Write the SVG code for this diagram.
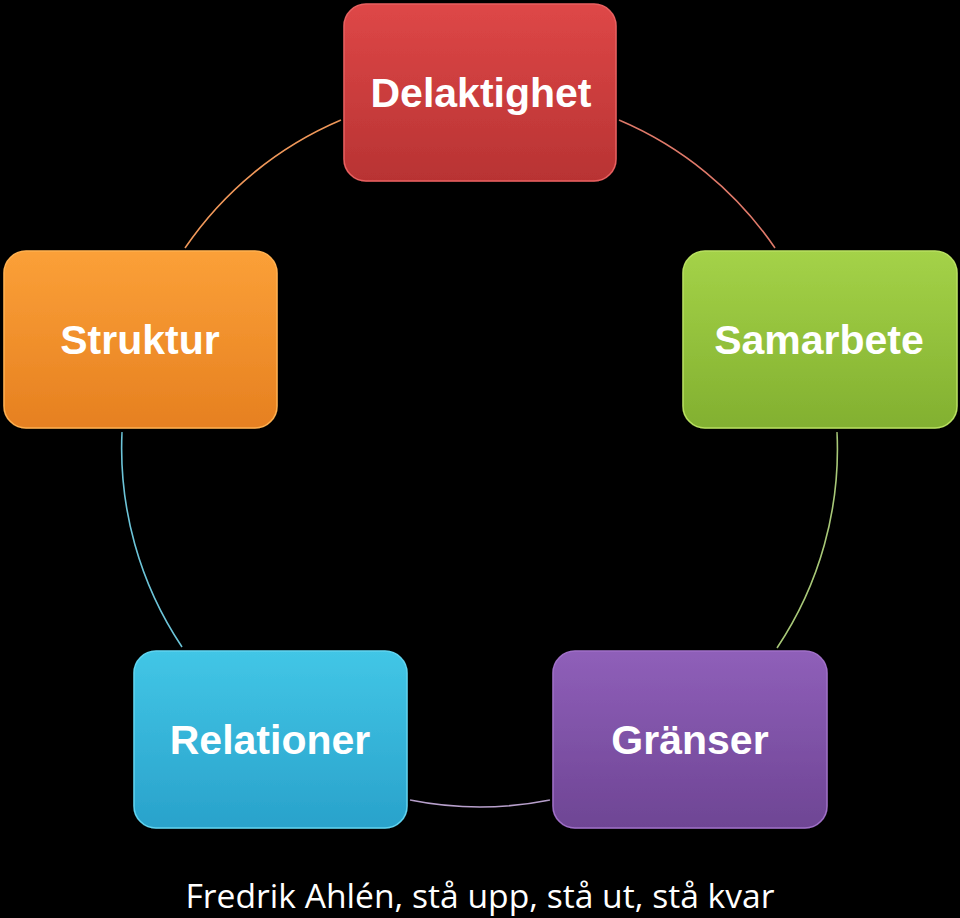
<svg xmlns="http://www.w3.org/2000/svg" width="960" height="918" viewBox="0 0 960 918">
<defs>
<linearGradient id="gRed" x1="0" y1="0" x2="0" y2="1"><stop offset="0" stop-color="#de4747"/><stop offset="1" stop-color="#b83333"/></linearGradient>
<linearGradient id="gGreen" x1="0" y1="0" x2="0" y2="1"><stop offset="0" stop-color="#a4d248"/><stop offset="1" stop-color="#82b030"/></linearGradient>
<linearGradient id="gPurple" x1="0" y1="0" x2="0" y2="1"><stop offset="0" stop-color="#8f5fb9"/><stop offset="1" stop-color="#6e4594"/></linearGradient>
<linearGradient id="gCyan" x1="0" y1="0" x2="0" y2="1"><stop offset="0" stop-color="#42c6e6"/><stop offset="1" stop-color="#29a2cb"/></linearGradient>
<linearGradient id="gOrange" x1="0" y1="0" x2="0" y2="1"><stop offset="0" stop-color="#fba038"/><stop offset="1" stop-color="#e68020"/></linearGradient>
<filter id="sh" x="-10%" y="-10%" width="120%" height="125%"><feGaussianBlur in="SourceAlpha" stdDeviation="3"/><feOffset dy="2"/><feComponentTransfer><feFuncA type="linear" slope="0.5"/></feComponentTransfer><feMerge><feMergeNode/><feMergeNode in="SourceGraphic"/></feMerge></filter>
</defs>
<style>
.box{filter:url(#sh);stroke-width:1.5}
.lbl{font-family:"Liberation Sans",Arial,sans-serif;font-weight:bold;font-size:41px;fill:#ffffff;text-anchor:middle}
.arc{fill:none;stroke-width:1.6}
.foot{font-family:"Open Sans","Liberation Sans",sans-serif;font-size:32px;fill:#ffffff;text-anchor:middle}
</style>
<rect width="960" height="918" fill="#000000"/>
<g id="connectors">
<path class="arc" stroke="#e07a6a" d="M619,120 A357.5,357.5 0 0 1 775,248"/>
<path class="arc" stroke="#a8c878" d="M837,432 A357.5,357.5 0 0 1 777,648"/>
<path class="arc" stroke="#b8a0cc" d="M550,800 A357.5,357.5 0 0 1 410,800"/>
<path class="arc" stroke="#6cc4d8" d="M182,647 A357.5,357.5 0 0 1 122,432"/>
<path class="arc" stroke="#f0985a" d="M185,248 A357.5,357.5 0 0 1 341,120"/>
</g>
<g id="delaktighet">
<rect class="box" x="344" y="4" width="272" height="177" rx="22" fill="url(#gRed)" stroke="#e86060"/>
<text class="lbl" x="481" y="107">Delaktighet</text>
</g>
<g id="samarbete">
<rect class="box" x="683" y="251" width="274" height="177" rx="22" fill="url(#gGreen)" stroke="#b8e060"/>
<text class="lbl" x="819" y="354">Samarbete</text>
</g>
<g id="granser">
<rect class="box" x="553" y="651" width="274" height="177" rx="22" fill="url(#gPurple)" stroke="#a070c8"/>
<text class="lbl" x="690" y="754">Gränser</text>
</g>
<g id="relationer">
<rect class="box" x="134" y="651" width="273" height="177" rx="22" fill="url(#gCyan)" stroke="#60d4f0"/>
<text class="lbl" x="270" y="754">Relationer</text>
</g>
<g id="struktur">
<rect class="box" x="4" y="251" width="273" height="177" rx="22" fill="url(#gOrange)" stroke="#ffb050"/>
<text class="lbl" x="140" y="354">Struktur</text>
</g>
<text class="foot" x="480" y="908" textLength="589" lengthAdjust="spacingAndGlyphs">Fredrik Ahlén, stå upp, stå ut, stå kvar</text>
</svg>
